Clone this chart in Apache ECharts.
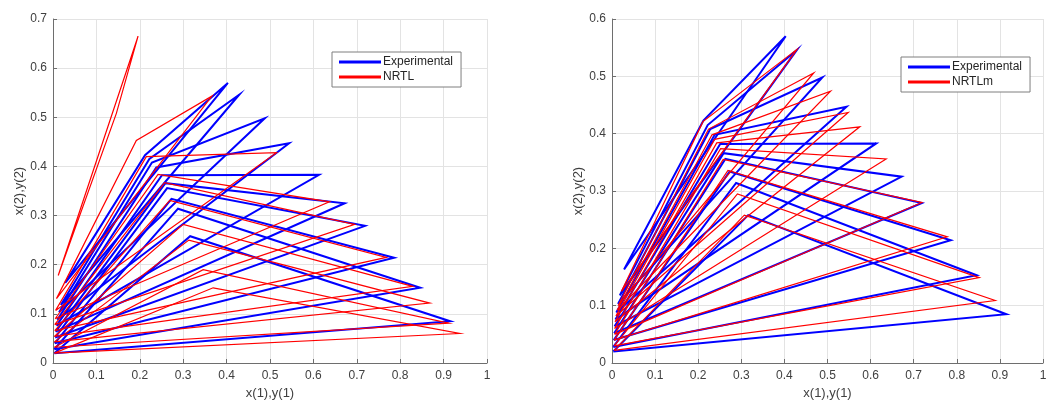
<!DOCTYPE html>
<html>
<head>
<meta charset="utf-8">
<script src="https://cdn.jsdelivr.net/npm/echarts@6/dist/echarts.min.js"></script>
<style>
  html, body { margin: 0; padding: 0; background: #fff; }
  #chart { width: 1050px; height: 406px; }
</style>
</head>
<body>
<div id="chart"></div>
<script>
// tie triangles: O = vertex near the y axis, K = knee vertex, T = tip vertex
// experimental data (same in both panels)
const expO1 = [0.028, 0.018, 0.014, 0.010, 0.008, 0.006, 0.005, 0.004, 0.003, 0.003]
const expO2 = [0.163, 0.118, 0.103, 0.088, 0.076, 0.064, 0.052, 0.040, 0.028, 0.020]
const expK1 = [0.212, 0.222, 0.228, 0.238, 0.251, 0.259, 0.263, 0.273, 0.288, 0.316]
const expK2 = [0.423, 0.415, 0.408, 0.398, 0.382, 0.366, 0.356, 0.334, 0.314, 0.258]
const expT1 = [0.403, 0.429, 0.488, 0.544, 0.613, 0.672, 0.719, 0.786, 0.846, 0.915]
const expT2 = [0.570, 0.546, 0.498, 0.447, 0.383, 0.325, 0.279, 0.214, 0.153, 0.085]

// NRTL (left panel)
const nrtlO1 = [0.012, 0.008, 0.006, 0.005, 0.004, 0.004, 0.003, 0.003, 0.003, 0.003]
const nrtlO2 = [0.178, 0.131, 0.107, 0.090, 0.078, 0.066, 0.054, 0.043, 0.032, 0.020]
const nrtlK1 = [0.146, 0.192, 0.215, 0.242, 0.257, 0.269, 0.300, 0.313, 0.346, 0.369]
const nrtlK2 = [0.508, 0.453, 0.420, 0.384, 0.367, 0.331, 0.282, 0.250, 0.190, 0.153]
const nrtlT1 = [0.196, 0.366, 0.515, 0.637, 0.695, 0.768, 0.829, 0.868, 0.912, 0.937]
const nrtlT2 = [0.665, 0.543, 0.428, 0.328, 0.282, 0.215, 0.156, 0.122, 0.081, 0.060]

// NRTLm (right panel)
const nrtlmO1 = [0.022, 0.014, 0.012, 0.009, 0.007, 0.006, 0.006, 0.005, 0.005, 0.005]
const nrtlmO2 = [0.125, 0.100, 0.092, 0.082, 0.072, 0.060, 0.050, 0.040, 0.030, 0.022]
const nrtlmK1 = [0.211, 0.224, 0.232, 0.238, 0.243, 0.252, 0.258, 0.269, 0.291, 0.307]
const nrtlmK2 = [0.421, 0.408, 0.398, 0.390, 0.384, 0.374, 0.355, 0.336, 0.295, 0.258]
const nrtlmT1 = [0.429, 0.468, 0.507, 0.548, 0.575, 0.636, 0.719, 0.778, 0.852, 0.889]
const nrtlmT2 = [0.547, 0.506, 0.474, 0.437, 0.412, 0.356, 0.280, 0.220, 0.149, 0.109]

const BLUE = '#0000ff'
const RED = '#ff0000'
const FONT = 'Liberation Sans, Arial, sans-serif'

function triangles(o1, o2, k1, k2, t1, t2) {
  const out = []
  for (let i = 0; i < o1.length; i++) {
    out.push({
      coords: [[o1[i], o2[i]], [k1[i], k2[i]], [t1[i], t2[i]], [o1[i], o2[i]]]
    })
  }
  return out
}

function xAxisCfg(gridIndex) {
  return {
    type: 'value',
    gridIndex: gridIndex,
    min: 0,
    max: 1,
    interval: 0.1,
    name: 'x(1),y(1)',
    nameLocation: 'middle',
    nameGap: 24,
    nameTextStyle: { color: '#404040', fontSize: 13, fontFamily: FONT },
    axisLine: { show: true, lineStyle: { color: '#6e6e6e' } },
    axisTick: { show: true, inside: true, length: 4, lineStyle: { color: '#6e6e6e' } },
    axisLabel: { color: '#404040', fontSize: 12, fontFamily: FONT, margin: 7 },
    splitLine: { show: true, lineStyle: { color: '#e3e3e3' } }
  }
}

function yAxisCfg(gridIndex, max, gap) {
  return {
    type: 'value',
    gridIndex: gridIndex,
    min: 0,
    max: max,
    interval: 0.1,
    name: 'x(2),y(2)',
    nameLocation: 'middle',
    nameGap: gap,
    nameTextStyle: { color: '#404040', fontSize: 13, fontFamily: FONT },
    axisLine: { show: true, lineStyle: { color: '#6e6e6e' } },
    axisTick: { show: true, inside: true, length: 4, lineStyle: { color: '#6e6e6e' } },
    axisLabel: { color: '#404040', fontSize: 12, fontFamily: FONT, margin: 6 },
    splitLine: { show: true, lineStyle: { color: '#e3e3e3' } }
  }
}

function legendCfg(left, top, modelName) {
  return {
    orient: 'vertical',
    left: left,
    top: top,
    icon: 'path://M0,0 L40,0 L40,1 L0,1 Z',
    itemWidth: 40,
    itemHeight: 14,
    itemGap: 1,
    padding: [3, 8, 3, 7],
    borderColor: '#7f7f7f',
    borderWidth: 1,
    borderRadius: 0,
    backgroundColor: '#fff',
    selectedMode: false,
    textStyle: { color: '#262626', fontSize: 12, fontFamily: FONT, lineHeight: 14, padding: [0, 0, 0, -2] },
    data: [
      { name: 'Experimental', itemStyle: { color: BLUE } },
      { name: modelName, itemStyle: { color: RED } }
    ]
  }
}

function linesSeries(name, data, color, width, idx) {
  return {
    name: name,
    type: 'lines',
    coordinateSystem: 'cartesian2d',
    xAxisIndex: idx,
    yAxisIndex: idx,
    polyline: true,
    silent: true,
    itemStyle: { color: color },
    lineStyle: { color: color, width: width, opacity: 1, curveness: 0 },
    data: data
  }
}

const chart = echarts.init(document.getElementById('chart'))
const option = {
  backgroundColor: '#fff',
  animation: false,
  grid: [
    { left: 53, top: 19, right: 563, bottom: 43 },
    { left: 612, top: 19, right: 7, bottom: 43 }
  ],
  xAxis: [xAxisCfg(0), xAxisCfg(1)],
  yAxis: [yAxisCfg(0, 0.7, 27), yAxisCfg(1, 0.6, 24)],
  legend: [legendCfg(332, 52, 'NRTL'), legendCfg(901, 57, 'NRTLm')],
  series: [
    linesSeries('Experimental', triangles(expO1, expO2, expK1, expK2, expT1, expT2), BLUE, 2, 0),
    linesSeries('NRTL', triangles(nrtlO1, nrtlO2, nrtlK1, nrtlK2, nrtlT1, nrtlT2), RED, 1.2, 0),
    linesSeries('Experimental', triangles(expO1, expO2, expK1, expK2, expT1, expT2), BLUE, 2, 1),
    linesSeries('NRTLm', triangles(nrtlmO1, nrtlmO2, nrtlmK1, nrtlmK2, nrtlmT1, nrtlmT2), RED, 1.2, 1)
  ]
}
chart.setOption(option)
</script>
</body>
</html>
